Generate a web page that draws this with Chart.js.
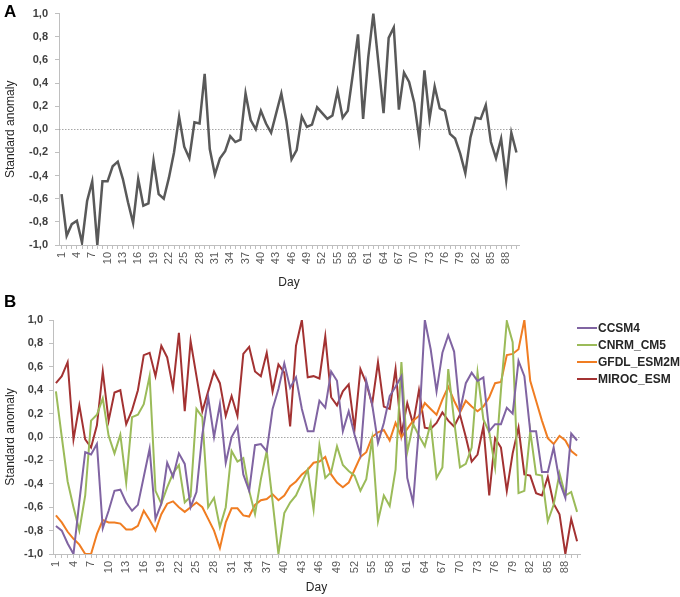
<!DOCTYPE html>
<html>
<head>
<meta charset="utf-8">
<script src="https://cdn.jsdelivr.net/npm/chart.js@4/dist/chart.umd.min.js"></script>
<style>
    body { margin: 0; background: #fff; font-family: "Liberation Sans", Arial, sans-serif; }
    #wrap { position: relative; width: 680px; height: 597px; overflow: hidden; }
    .panel { position: absolute; }
    .letter { position: absolute; font-weight: bold; font-size: 17px; color: #000; }
    #legend { position: absolute; left: 577px; top: 320px; }
    .item { position: relative; height: 17px; font-size: 12px; font-weight: bold; color: #262626; white-space: nowrap; }
    .item span.swatch { position: absolute; left: 0; top: 7px; width: 20px; height: 2px; }
    .item span.txt { position: absolute; left: 21px; top: 1px; }
</style>
</head>
<body>
<div id="wrap">
    <div class="panel" style="left:0;top:0;width:540px;height:300px;"><canvas id="chartA"></canvas></div>
    <div class="panel" style="left:0;top:300px;width:680px;height:297px;"><canvas id="chartB"></canvas></div>
    <div class="letter" style="left:4px;top:2px;">A</div>
    <div class="letter" style="left:4px;top:292px;">B</div>
    <div id="legend"></div>
</div>
<script>
// days of the season (x categories)
const days = ['1','2','3','4','5','6','7','8','9','10','11','12','13','14','15','16','17','18','19','20',
    '21','22','23','24','25','26','27','28','29','30','31','32','33','34','35','36','37','38','39','40',
    '41','42','43','44','45','46','47','48','49','50','51','52','53','54','55','56','57','58','59','60',
    '61','62','63','64','65','66','67','68','69','70','71','72','73','74','75','76','77','78','79','80',
    '81','82','83','84','85','86','87','88','89','90'];

// panel A: observed standard anomaly
const observed = [-0.56, -0.92, -0.82, -0.79, -0.98, -0.62, -0.45, -1.0, -0.45, -0.45,
    -0.32, -0.28, -0.43, -0.63, -0.81, -0.43, -0.66, -0.64, -0.27, -0.56,
    -0.60, -0.42, -0.20, 0.11, -0.15, -0.25, 0.06, 0.05, 0.48, -0.17,
    -0.39, -0.25, -0.19, -0.06, -0.11, -0.09, 0.31, 0.08, 0.00, 0.16,
    0.05, -0.03, 0.14, 0.31, 0.07, -0.26, -0.18, 0.11, 0.02, 0.04,
    0.19, 0.14, 0.09, 0.12, 0.33, 0.10, 0.16, 0.48, 0.82, 0.09,
    0.62, 1.0, 0.57, 0.14, 0.79, 0.88, 0.17, 0.49, 0.41, 0.23,
    -0.09, 0.51, 0.09, 0.37, 0.18, 0.16, -0.04, -0.08, -0.21, -0.38,
    -0.07, 0.10, 0.09, 0.21, -0.11, -0.25, -0.08, -0.44, -0.03, -0.20];

// panel B: models
const modelNames = ['CCSM4', 'CNRM_CM5', 'GFDL_ESM2M', 'MIROC_ESM'];
const modelColors = ['#8064A2', '#9BBB59', '#F07D22', '#A33232'];

const ccsm4 = [-0.76, -0.80, -0.91, -1.0, -0.55, -0.13, -0.15, -0.06, -0.78, -0.63,
    -0.46, -0.45, -0.56, -0.63, -0.58, -0.34, -0.10, -0.70, -0.57, -0.22,
    -0.34, -0.14, -0.23, -0.60, -0.47, 0.02, 0.34, 0.0, 0.28, -0.22,
    0.0, 0.09, -0.32, -0.46, -0.07, -0.06, -0.12, 0.24, 0.41, 0.63,
    0.42, 0.51, 0.24, 0.05, 0.05, 0.31, 0.25, 0.56, 0.48, 0.05,
    0.22, 0.02, -0.15, 0.48, 0.28, -0.05, 0.12, 0.35, 0.43, 0.52,
    -0.35, -0.56, 0.08, 1.0, 0.75, 0.39, 0.72, 0.87, 0.73, 0.22,
    0.46, 0.55, 0.48, 0.51, 0.05, 0.11, 0.11, 0.25, 0.20, 0.65,
    0.52, 0.05, 0.05, -0.30, -0.30, -0.09, -0.38, -0.52, 0.03, -0.03];

const cnrm = [0.39, 0.0, -0.38, -0.60, -0.80, -0.50, 0.14, 0.19, 0.33, 0.01,
    -0.14, 0.02, -0.39, 0.17, 0.19, 0.28, 0.52, -0.46, -0.57, -0.43,
    -0.31, -0.24, -0.56, -0.51, 0.24, 0.17, -0.60, -0.52, -0.77, -0.60,
    -0.12, -0.21, -0.18, -0.46, -0.66, -0.36, -0.12, -0.55, -1.0, -0.65,
    -0.56, -0.50, -0.39, -0.28, -0.62, -0.07, -0.35, -0.30, -0.08, -0.24,
    -0.29, -0.33, -0.46, -0.36, -0.02, -0.72, -0.50, -0.59, -0.28, 0.64,
    -0.13, 0.11, 0.01, -0.08, 0.12, -0.35, -0.26, 0.58, 0.14, -0.26,
    -0.23, -0.09, 0.55, 0.15, 0.04, -0.26, 0.40, 0.99, 0.81, -0.48,
    -0.46, 0.05, -0.32, -0.33, -0.72, -0.58, -0.31, -0.50, -0.47, -0.64];

const gfdl = [-0.67, -0.73, -0.81, -0.87, -0.92, -1.0, -1.0, -0.83, -0.71, -0.73,
    -0.73, -0.74, -0.79, -0.79, -0.76, -0.63, -0.71, -0.80, -0.66, -0.57,
    -0.55, -0.60, -0.64, -0.60, -0.56, -0.60, -0.70, -0.80, -0.95, -0.73,
    -0.61, -0.61, -0.67, -0.68, -0.58, -0.54, -0.53, -0.49, -0.54, -0.50,
    -0.42, -0.38, -0.32, -0.28, -0.22, -0.21, -0.17, -0.32, -0.39, -0.43,
    -0.39, -0.28, -0.17, -0.13, 0.0, 0.04, 0.06, -0.03, 0.12, 0.0,
    0.07, 0.14, 0.18, 0.29, 0.24, 0.19, 0.32, 0.43, 0.31, 0.21,
    0.31, 0.26, 0.22, 0.26, 0.34, 0.46, 0.47, 0.70, 0.71, 0.75,
    1.0, 0.48, 0.31, 0.14, -0.01, -0.06, 0.01, -0.03, -0.12, -0.16];

const miroc = [0.46, 0.52, 0.64, -0.02, 0.27, -0.02, -0.09, 0.10, 0.56, 0.14,
    0.38, 0.40, 0.11, 0.23, 0.40, 0.70, 0.72, 0.52, 0.78, 0.68,
    0.42, 0.89, 0.22, 0.82, 0.52, 0.22, 0.39, 0.56, 0.46, 0.18,
    0.35, 0.18, 0.71, 0.77, 0.56, 0.52, 0.72, 0.39, 0.62, 0.55,
    0.09, 0.78, 1.0, 0.51, 0.52, 0.50, 0.86, 0.34, 0.27, 0.39,
    0.45, 0.07, 0.58, 0.46, 0.28, 0.64, 0.26, 0.24, 0.58, 0.02,
    0.29, 0.11, 0.40, 0.08, 0.07, 0.12, 0.21, 0.14, 0.09, 0.19,
    0.0, -0.21, -0.15, 0.09, -0.50, -0.01, -0.09, -0.46, -0.14, 0.08,
    -0.32, -0.33, -0.48, -0.50, -0.34, -0.57, -0.66, -1.0, -0.70, -0.89];

const modelSeries = [ccsm4, cnrm, gfdl, miroc];

// y tick labels use a decimal comma
function commaLabel(v) {
    if (Math.abs(v) < 1e-9) return '0,0';
    return v.toFixed(1).replace('.', ',');
}

// dotted line at zero, drawn under the data
const zeroLine = {
    id: 'zeroLine',
    beforeDatasetsDraw(chart) {
        const y = chart.scales.y.getPixelForValue(0);
        const area = chart.chartArea;
        const ctx = chart.ctx;
        ctx.save();
        ctx.strokeStyle = '#A6A6A6';
        ctx.lineWidth = 1;
        ctx.setLineDash([1.5, 1.5]);
        ctx.beginPath();
        ctx.moveTo(area.left, Math.round(y) + 0.5);
        ctx.lineTo(area.right, Math.round(y) + 0.5);
        ctx.stroke();
        ctx.restore();
    }
};

function makeOptions(yWidth, yPad, xHeight, padding, dayPadBottom) {
    return {
        responsive: true,
        maintainAspectRatio: false,
        animation: false,
        devicePixelRatio: 1,
        layout: { padding: padding },
        plugins: { legend: { display: false }, tooltip: { enabled: false } },
        scales: {
            x: {
                offset: true,
                grid: { offset: false, drawOnChartArea: false, drawTicks: true, tickLength: 4, color: '#BFBFBF' },
                border: { color: '#BFBFBF' },
                ticks: {
                    autoSkip: false,
                    maxRotation: 90,
                    minRotation: 90,
                    padding: 3,
                    color: '#595959',
                    font: { family: 'Liberation Sans', size: 11 },
                    callback: function (value, index) {
                        return index % 3 === 0 ? this.getLabelForValue(value) : '';
                    }
                },
                title: {
                    display: true,
                    text: 'Day',
                    color: '#262626',
                    font: { family: 'Liberation Sans', size: 12 },
                    padding: { top: 2, bottom: dayPadBottom }
                },
                afterFit: function (scale) { scale.height = xHeight; }
            },
            y: {
                min: -1,
                max: 1,
                grid: { drawOnChartArea: false, drawTicks: true, tickLength: 4, color: '#BFBFBF' },
                border: { color: '#BFBFBF' },
                ticks: {
                    stepSize: 0.2,
                    padding: yPad,
                    color: '#404040',
                    font: { family: 'Liberation Sans', size: 11, weight: 'bold' },
                    callback: commaLabel
                },
                title: {
                    display: true,
                    text: 'Standard anomaly',
                    color: '#262626',
                    font: { family: 'Liberation Sans', size: 12 },
                    padding: { top: 3, bottom: 0 }
                },
                afterFit: function (scale) { scale.width = yWidth; }
            }
        }
    };
}

new Chart(document.getElementById('chartA'), {
    type: 'line',
    data: {
        labels: days,
        datasets: [{
            label: 'Observed',
            data: observed,
            borderColor: '#595959',
            borderWidth: 2.5,
            pointRadius: 0,
            tension: 0,
            fill: false
        }]
    },
    options: makeOptions(59, 7, 55, { left: 0, right: 21, top: 9, bottom: 0 }, 10),
    plugins: [zeroLine]
});

new Chart(document.getElementById('chartB'), {
    type: 'line',
    data: {
        labels: days,
        datasets: modelNames.map((name, i) => ({
            label: name,
            data: modelSeries[i],
            borderColor: modelColors[i],
            borderWidth: 2,
            pointRadius: 0,
            tension: 0,
            fill: false
        }))
    },
    options: makeOptions(53, 6, 43, { left: 0, right: 100, top: 20, bottom: 0 }, 2),
    plugins: [zeroLine]
});

// legend to the right of panel B
const legendDiv = document.getElementById('legend');
modelNames.forEach((name, i) => {
    const row = document.createElement('div');
    row.className = 'item';
    row.innerHTML = `<span class="swatch" style="background:${modelColors[i]}"></span><span class="txt">${name}</span>`;
    legendDiv.appendChild(row);
});
</script>
</body>
</html>
